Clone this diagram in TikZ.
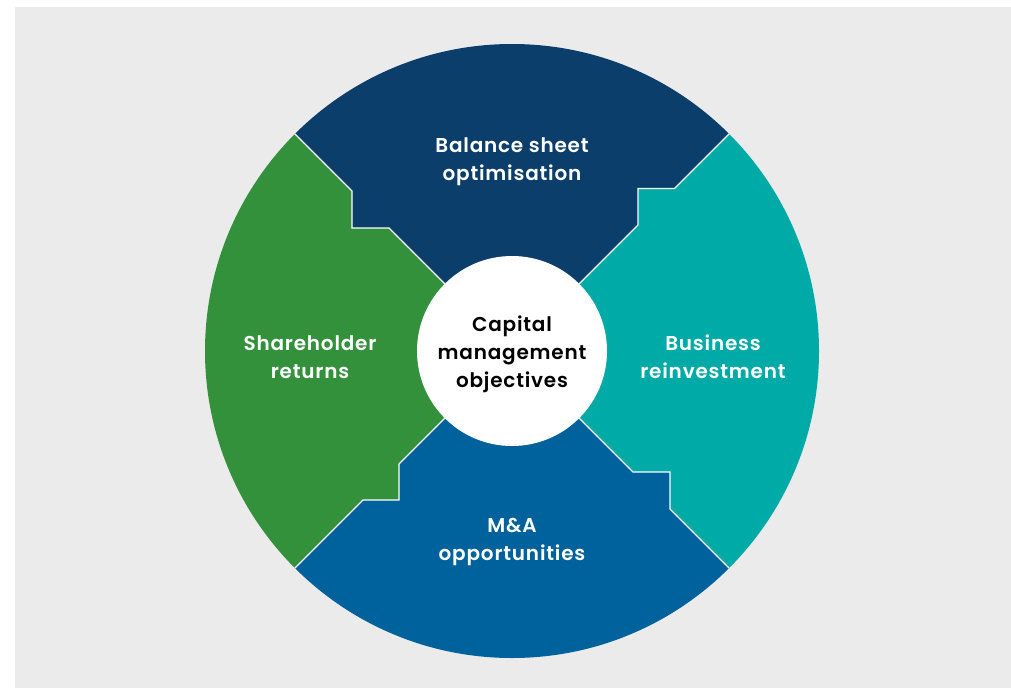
\documentclass[tikz,border=0pt]{standalone}
\usepackage{fontspec}
\setmainfont{Poppins}[UprightFont={* SemiBold},LetterSpace=4]
\definecolor{bgrey}{HTML}{EBEBEB}
\definecolor{navy}{HTML}{0C3E6C}
\definecolor{teal}{HTML}{00AAA6}
\definecolor{ocean}{HTML}{00629C}
\definecolor{leaf}{HTML}{33913C}
\begin{document}
\begin{tikzpicture}[x=1pt,y=-1pt,
  lbl/.style={align=center,text=white,font=\fontsize{20}{28}\selectfont},
  sep/.style={draw=white,line width=1.1pt,line join=miter}]
\useasboundingbox (0,0) rectangle (1011,688);
\fill[bgrey] (15,7) rectangle (1011,688);
\begin{scope}[shift={(512,351)}]
  \begin{scope}
    \clip (0,0) circle[radius=307pt];
    % four quadrants, each bounded by stepped dividers
    \fill[navy]  (0,0) -- (-123,-123) -- (-160,-123) -- (-160,-160) -- (-320,-320)
                 -- (-320,-500) -- (320,-500) -- (320,-320)
                 -- (162.5,-162.5) -- (126,-162.5) -- (126,-126) -- cycle;
    \fill[teal]  (0,0) -- (126,-126) -- (126,-162.5) -- (162.5,-162.5) -- (320,-320)
                 -- (500,-320) -- (500,320) -- (320,320)
                 -- (158,158) -- (158,121) -- (121,121) -- cycle;
    \fill[ocean] (0,0) -- (121,121) -- (158,121) -- (158,158) -- (320,320)
                 -- (320,500) -- (-320,500) -- (-320,320)
                 -- (-149,149) -- (-113,149) -- (-113,113) -- cycle;
    \fill[leaf]  (0,0) -- (-113,113) -- (-113,149) -- (-149,149) -- (-320,320)
                 -- (-500,320) -- (-500,-320) -- (-320,-320)
                 -- (-160,-160) -- (-160,-123) -- (-123,-123) -- cycle;
    % white dividers
    \draw[sep] (0,0) -- (-123,-123) -- (-160,-123) -- (-160,-160) -- (-320,-320);
    \draw[sep] (0,0) -- (126,-126) -- (126,-162.5) -- (162.5,-162.5) -- (320,-320);
    \draw[sep] (0,0) -- (121,121) -- (158,121) -- (158,158) -- (320,320);
    \draw[sep] (0,0) -- (-113,113) -- (-113,149) -- (-149,149) -- (-320,320);
  \end{scope}
  \node[circle,fill=white,minimum size=190pt,inner sep=0pt] (core) at (0,0) {};
  \node[align=center,font=\fontsize{20}{28}\selectfont] (coretext) at (0,3)
        {Capital\\management\\objectives};
  \node[lbl] (balance) at (0,-189) {Balance sheet\\optimisation};
  \node[lbl] (business) at (201,6) {Business\\reinvestment};
  \node[lbl] (mna) at (0,191) {M\&A\\opportunities};
  \node[lbl] (share) at (-202,6) {Shareholder\\returns};
\end{scope}
\end{tikzpicture}
\end{document}
